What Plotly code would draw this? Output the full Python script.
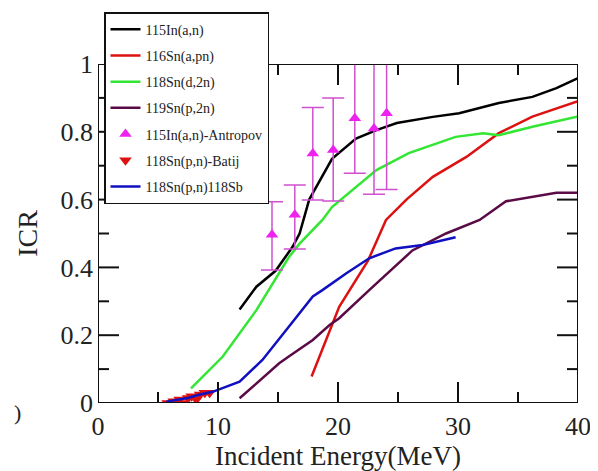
import plotly.graph_objects as go

# --- data ---
in115_an_x = [11.8, 13.2, 14.8, 16.2, 16.8, 17.6, 19.5, 21.5, 23.2, 24.9, 27.9, 30.1, 33.4, 36.2, 38.2, 40.0]
in115_an_y = [0.276, 0.343, 0.39, 0.46, 0.50, 0.60, 0.72, 0.78, 0.805, 0.826, 0.844, 0.855, 0.885, 0.903, 0.929, 0.958]

sn116_apn_x = [17.8, 19.3, 20.1, 22.5, 24.0, 25.7, 27.9, 30.7, 33.4, 36.2, 40.0]
sn116_apn_y = [0.078, 0.215, 0.284, 0.42, 0.54, 0.60, 0.667, 0.726, 0.796, 0.845, 0.89]

sn118_d2n_x = [7.75, 10.4, 13.2, 15.9, 16.8, 18.7, 19.5, 23.2, 25.9, 29.8, 32.1, 33.4, 36.2, 40.0]
sn118_d2n_y = [0.043, 0.137, 0.274, 0.43, 0.47, 0.54, 0.578, 0.687, 0.737, 0.785, 0.796, 0.79, 0.815, 0.845]

sn119_p2n_x = [11.8, 15.1, 15.9, 17.9, 19.3, 20.1, 22.6, 26.2, 29.0, 31.8, 34.0, 36.2, 38.2, 40.0]
sn119_p2n_y = [0.014, 0.117, 0.137, 0.186, 0.23, 0.25, 0.333, 0.45, 0.50, 0.54, 0.595, 0.608, 0.62, 0.62]

antropov_x = [14.5, 16.4, 17.9, 19.6, 21.4, 23.0, 24.05]
antropov_y = [0.496, 0.555, 0.736, 0.746, 0.84, 0.81, 0.855]
antropov_err_plus = [0.098, 0.088, 0.136, 0.154, 0.16, 0.19, 0.145]
antropov_err_minus = [0.104, 0.101, 0.137, 0.15, 0.162, 0.194, 0.225]

batij_x = [5.8, 6.3, 6.8, 7.2, 7.5, 7.8, 8.2, 8.5, 8.9, 9.3]
batij_y = [0.0, 0.005, 0.01, 0.0, 0.015, 0.02, 0.01, 0.025, 0.03, 0.03]

sb118_x = [5.7, 6.5, 7.5, 8.5, 9.55, 11.8, 13.7, 15.9, 17.9, 18.7, 20.7, 22.6, 24.8, 27.05, 29.8]
sb118_y = [0.004, 0.008, 0.015, 0.025, 0.033, 0.063, 0.127, 0.225, 0.314, 0.333, 0.383, 0.427, 0.456, 0.466, 0.489]

x_range = [0, 40]
y_range = [0, 1]
x_ticks = [0, 10, 20, 30, 40]
x_minor = [5, 15, 25, 35]
y_ticks = [0, 0.2, 0.4, 0.6, 0.8, 1]
y_minor = [0.1, 0.3, 0.5, 0.7, 0.9]

FONT = "Liberation Serif"
LW = 2.5
AX = "#111111"
TXT = "#222222"

# figure geometry (page body adds an 8px offset)
FIG_W, FIG_H = 590, 463
M_L, M_R, M_T, M_B = 90, 20, 56, 68
PW, PH = FIG_W - M_L - M_R, FIG_H - M_T - M_B
MAJ, MIN = 21, 11

fig = go.Figure()

def line(x, y, name, color, g):
    fig.add_trace(go.Scatter(x=x, y=y, mode="lines", name=name, legendgroup=g,
                             line=dict(color=color, width=LW)))

line(in115_an_x, in115_an_y, "115In(a,n)", "#000000", "a")
line(sn116_apn_x, sn116_apn_y, "116Sn(a,pn)", "#dd1111", "b")
line(sn118_d2n_x, sn118_d2n_y, "118Sn(d,2n)", "#33e633", "c")
line(sn119_p2n_x, sn119_p2n_y, "119Sn(p,2n)", "#5a0a45", "d")

fig.add_trace(go.Scatter(
    x=antropov_x, y=antropov_y, mode="markers", name="115In(a,n)-Antropov", legendgroup="e",
    marker=dict(symbol="triangle-up", size=11, color="#ee22ee"),
    error_y=dict(type="data", symmetric=False, array=antropov_err_plus,
                 arrayminus=antropov_err_minus, color="#d050d0", thickness=1.5, width=11)))

fig.add_trace(go.Scatter(
    x=batij_x, y=batij_y, mode="markers", name="118Sn(p,n)-Batij", legendgroup="f",
    marker=dict(symbol="triangle-down", size=11, color="#dd1111")))

line(sb118_x, sb118_y, "118Sn(p,n)118Sb", "#1010c0", "g")

# --- plot frame and inward ticks, built from the axis ranges and tick lists ---
x0, x1 = x_range
y0, y1 = y_range
dx_per_px = (x1 - x0) / PW
dy_per_px = (y1 - y0) / PH
fx, fy = [], []
fx += [x0, x1, x1, x0, x0, None]
fy += [y0, y0, y1, y1, y0, None]
for vals, ln in ((x_ticks, MAJ), (x_minor, MIN)):
    for v in vals:
        fx += [v, v, None, v, v, None]
        fy += [y0, y0 + ln * dy_per_px, None, y1, y1 - ln * dy_per_px, None]
for vals, ln in ((y_ticks, MAJ), (y_minor, MIN)):
    for v in vals:
        fx += [x0, x0 + ln * dx_per_px, None, x1, x1 - ln * dx_per_px, None]
        fy += [v, v, None, v, v, None]
fig.add_trace(go.Scatter(x=fx, y=fy, mode="lines", line=dict(color=AX, width=2),
                         showlegend=False, hoverinfo="skip", cliponaxis=False, connectgaps=False))

fig.update_xaxes(range=x_range, tickvals=x_ticks, showline=False, ticks="",
                 showgrid=False, zeroline=False, ticklabelstandoff=5,
                 tickfont=dict(family=FONT, size=26, color=TXT),
                 title=dict(text="Incident Energy(MeV)", font=dict(family=FONT, size=27, color=TXT), standoff=4))
fig.update_yaxes(range=y_range, tickvals=y_ticks, ticktext=["0", "0.2", "0.4", "0.6", "0.8", "1"],
                 showline=False, ticks="", ticklabelstandoff=4,
                 showgrid=False, zeroline=False,
                 tickfont=dict(family=FONT, size=26, color=TXT),
                 title=dict(text="ICR", font=dict(family=FONT, size=28, color=TXT), standoff=14))

fig.add_annotation(text=")", x=-0.18, y=-0.07, xref="paper", yref="paper", showarrow=False,
                   font=dict(family=FONT, size=22, color=TXT))

fig.update_layout(
    width=FIG_W, height=FIG_H,
    margin=dict(l=M_L, r=M_R, t=M_T, b=M_B, autoexpand=False),
    paper_bgcolor="white", plot_bgcolor="white",
    showlegend=True,
    legend=dict(x=0.0125, y=1.153, xanchor="left", yanchor="top",
                bgcolor="white", bordercolor=AX, borderwidth=1.5,
                font=dict(family=FONT, size=14, color=TXT),
                traceorder="grouped", tracegroupgap=5, itemwidth=30),
)

fig.write_html("out.html")
